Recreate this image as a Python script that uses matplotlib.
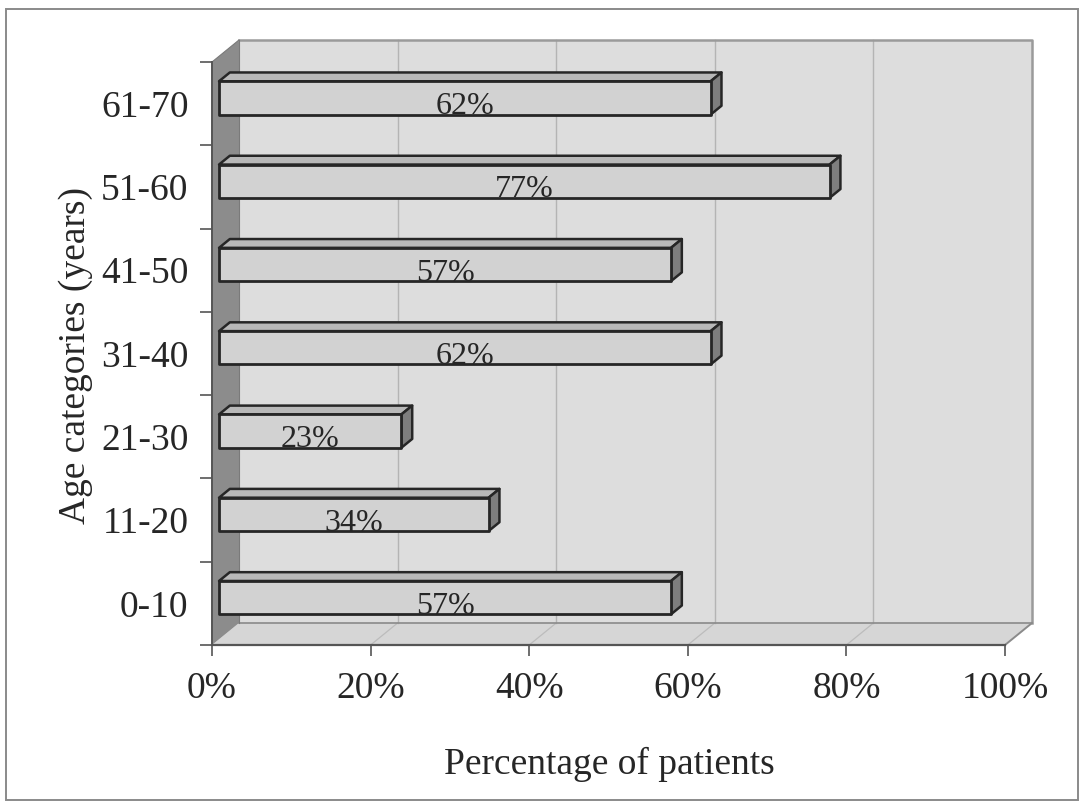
import matplotlib
matplotlib.use("Agg")
import matplotlib.pyplot as plt
from matplotlib.patches import Polygon, Rectangle

# Data
age_groups = ["0-10", "11-20", "21-30", "31-40", "41-50", "51-60", "61-70"]
percent_patients = [57, 34, 23, 62, 57, 77, 62]
x_ticks = [0, 20, 40, 60, 80, 100]
x_tick_labels = ["0%", "20%", "40%", "60%", "80%", "100%"]

plt.rcParams["font.family"] = ["Liberation Serif", "DejaVu Serif"]
TXT = "#262626"

W, H = 1084, 807
fig = plt.figure(figsize=(W / 100, H / 100), dpi=100)
fig.patch.set_facecolor("white")

# outer frame
fig.add_artist(Rectangle((6 / W, 7 / H), 1072 / W, 791 / H, transform=fig.transFigure,
                         fill=False, edgecolor="#8a8a8a", linewidth=1.4))

# front plane of the plot
x0, x1, y0, y1 = 212, 1005, 62, 645
ax = fig.add_axes([x0 / W, 1 - y1 / H, (x1 - x0) / W, (y1 - y0) / H])
n = len(age_groups)
ax.set_xlim(0, 100)
ax.set_ylim(-0.5, n - 0.5)
ax.patch.set_visible(False)
for s in ax.spines.values():
    s.set_visible(False)

# depth of the 3D box, in data units
dx = 27 / ((x1 - x0) / 100)
dy = 22 / ((y1 - y0) / n)
lo, hi = -0.5, n - 0.5

kw = dict(clip_on=False)
# back wall
ax.add_patch(Polygon([(dx, lo + dy), (100 + dx, lo + dy), (100 + dx, hi + dy), (dx, hi + dy)],
                     closed=True, facecolor="#dddddd", edgecolor="none", zorder=1, **kw))
# floor
ax.add_patch(Polygon([(0, lo), (100, lo), (100 + dx, lo + dy), (dx, lo + dy)],
                     closed=True, facecolor="#d6d6d6", edgecolor="none", zorder=1, **kw))
# left wall
ax.add_patch(Polygon([(0, lo), (dx, lo + dy), (dx, hi + dy), (0, hi)],
                     closed=True, facecolor="#8c8c8c", edgecolor="none", zorder=1, **kw))

# gridlines on wall and floor
for xv in x_ticks[1:-1]:
    ax.plot([xv + dx, xv + dx], [lo + dy, hi + dy], color="#b4b4b4", lw=1.0, zorder=2, **kw)
    ax.plot([xv, xv + dx], [lo, lo + dy], color="#bcbcbc", lw=0.9, zorder=2, **kw)
# box edges
ax.plot([dx, 100 + dx], [lo + dy, lo + dy], color="#8a8a8a", lw=1.2, zorder=2, **kw)
ax.plot([dx, 100 + dx, 100 + dx], [hi + dy, hi + dy, lo + dy], color="#9a9a9a", lw=1.8, zorder=2, **kw)
ax.plot([100, 100 + dx], [lo, lo + dy], color="#8a8a8a", lw=1.4, zorder=2, **kw)
ax.plot([dx, dx], [lo + dy, hi + dy], color="#7a7a7a", lw=0.8, zorder=2, **kw)
ax.plot([0, dx], [hi, hi + dy], color="#7a7a7a", lw=0.8, zorder=2, **kw)
# axis lines
ax.plot([0, 100], [lo, lo], color="#555555", lw=1.6, zorder=3, **kw)
ax.plot([0, 0], [lo, hi], color="#555555", lw=1.4, zorder=3, **kw)

# bars (front face sits a little behind the front plane)
f0, f1 = 0.26, 0.66
bh = 0.40
edge = "#262626"
for i, v in enumerate(percent_patients):
    a = f0 * dx
    r = v + f0 * dx
    bot = i - bh / 2 + f0 * dy
    top = i + bh / 2 + f0 * dy
    ddx = (f1 - f0) * dx
    ddy = (f1 - f0) * dy
    ax.add_patch(Polygon([(a, top), (r, top), (r + ddx, top + ddy), (a + ddx, top + ddy)],
                         closed=True, facecolor="#b8b8b8", edgecolor=edge, lw=1.8, zorder=4,
                         joinstyle="round", **kw))
    ax.add_patch(Polygon([(r, bot), (r + ddx, bot + ddy), (r + ddx, top + ddy), (r, top)],
                         closed=True, facecolor="#7e7e7e", edgecolor=edge, lw=1.8, zorder=4,
                         joinstyle="round", **kw))
    ax.add_patch(Polygon([(a, bot), (r, bot), (r, top), (a, top)],
                         closed=True, facecolor="#d2d2d2", edgecolor=edge, lw=2.0, zorder=5,
                         joinstyle="round", **kw))
    ax.text((a + r) / 2, bot + 0.005, f"{v}%", ha="center", va="baseline",
            fontsize=23, color=TXT, zorder=6)

# ticks and tick labels
ax.set_xticks(x_ticks)
ax.set_xticklabels(x_tick_labels, fontsize=27, color=TXT)
ax.tick_params(axis="x", direction="out", length=8, width=1.2, color="#555555", pad=11)
ax.set_yticks(range(n))
ax.set_yticklabels(age_groups, fontsize=27, color=TXT)
ax.tick_params(axis="y", which="major", length=0, pad=17)
ax.set_yticks([k - 0.5 for k in range(n + 1)], minor=True)
ax.tick_params(axis="y", which="minor", direction="out", length=9, width=1.2, color="#555555")

fig.text(609 / W, 1 - 774 / H, "Percentage of patients", ha="center", va="baseline",
         fontsize=27, color=TXT)
fig.text(76 / W, 1 - 356 / H, "Age categories (years)", ha="center", va="center",
         rotation=90, fontsize=27, color=TXT)

fig.savefig("out.png", dpi=100)
